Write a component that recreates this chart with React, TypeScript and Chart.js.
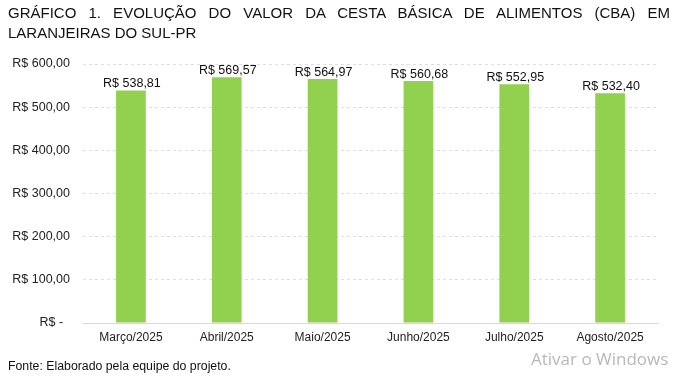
import React, { useEffect, useRef } from "react";
import { Chart, registerables } from "chart.js";

Chart.register(...registerables);

const categories = ["Março/2025", "Abril/2025", "Maio/2025", "Junho/2025", "Julho/2025", "Agosto/2025"];
const values = [538.81, 569.57, 564.97, 560.68, 552.95, 532.4];
const yTicks = [0, 100, 200, 300, 400, 500, 600];

const fmt = (v: number) => "R$ " + v.toFixed(2).replace(".", ",");

const FONT = "'Liberation Sans', Arial, sans-serif";

export default function App() {
  const ref = useRef<HTMLCanvasElement>(null);
  useEffect(() => {
    document.body.style.margin = "0";
    const labelPlugin = {
      id: "barLabels",
      afterDatasetsDraw(chart: any) {
        const ctx = chart.ctx;
        const meta = chart.getDatasetMeta(0);
        ctx.save();
        ctx.font = `12.5px ${FONT}`;
        ctx.fillStyle = "#111";
        ctx.textAlign = "center";
        ctx.textBaseline = "alphabetic";
        meta.data.forEach((bar: any, i: number) => {
          ctx.fillText(fmt(values[i]), bar.x + 1, bar.y - 3);
        });
        ctx.restore();
      },
    };
    const chart = new Chart(ref.current!, {
      type: "bar",
      data: {
        labels: categories,
        datasets: [
          {
            data: values,
            backgroundColor: "#92d050",
            barPercentage: 0.31,
            categoryPercentage: 1,
          },
        ],
      },
      options: {
        animation: false,
        responsive: false,
        layout: { padding: { left: 0, right: 21, top: 64, bottom: 24 } },
        plugins: { legend: { display: false }, tooltip: { enabled: false } },
        scales: {
          x: {
            grid: { display: false, drawTicks: false },
            border: { display: true, color: "#d9d9d9" },
            ticks: { font: { family: FONT, size: 12 }, color: "#222", padding: 7 },
            afterFit: (s: any) => { s.height = 30; },
          },
          y: {
            min: 0,
            max: 600,
            afterBuildTicks: (s: any) => { s.ticks = yTicks.map((v) => ({ value: v })); },
            grid: { color: "#dedede", drawTicks: false },
            border: { display: false, dash: [3, 3] },
            ticks: {
              font: { family: FONT, size: 12.5 },
              color: "#222",
              padding: 13,
              callback: (v: any) => (Number(v) === 0 ? "R$ -  " : fmt(Number(v))),
            },
            afterFit: (s: any) => { s.width = 83; },
          },
        },
      },
      plugins: [labelPlugin],
    });
    return () => chart.destroy();
  }, []);

  return (
    <div style={{ position: "relative", width: 679, height: 377, overflow: "hidden", background: "#fff", fontFamily: FONT }}>
      <canvas ref={ref} width={679} height={377} style={{ position: "absolute", left: 0, top: 0 }} />
      <div
        style={{
          position: "absolute",
          left: 8,
          top: 2,
          width: 662,
          fontSize: 15,
          lineHeight: "21px",
          color: "#111",
          textAlign: "justify",
          textAlignLast: "justify",
          whiteSpace: "nowrap",
        }}
      >
        GRÁFICO 1. EVOLUÇÃO DO VALOR DA CESTA BÁSICA DE ALIMENTOS (CBA) EM
      </div>
      <div
        style={{
          position: "absolute",
          left: 8,
          top: 22,
          fontSize: 15,
          lineHeight: "21px",
          color: "#111",
          whiteSpace: "nowrap",
        }}
      >
        LARANJEIRAS DO SUL-PR
      </div>
      <div
        style={{
          position: "absolute",
          left: 8,
          top: 359,
          fontSize: 12.3,
          lineHeight: "14px",
          color: "#111",
          whiteSpace: "nowrap",
        }}
      >
        Fonte: Elaborado pela equipe do projeto.
      </div>
      <div
        style={{
          position: "absolute",
          left: 531,
          top: 348,
          fontSize: 17,
          lineHeight: "22px",
          color: "#b8b8b8",
          fontFamily: "'Open Sans', 'Noto Sans', sans-serif",
          whiteSpace: "nowrap",
        }}
      >
        Ativar o Windows
      </div>
    </div>
  );
}
